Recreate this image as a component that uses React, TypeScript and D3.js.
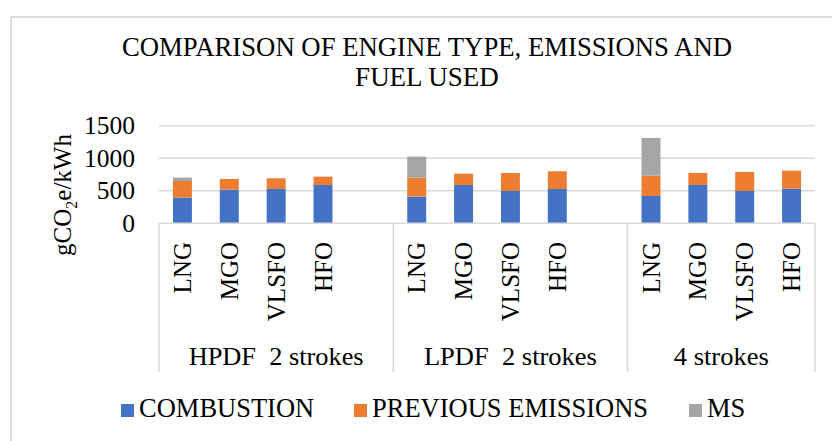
import React from "react";
import * as d3 from "d3";

const groups = ["HPDF  2 strokes", "LPDF  2 strokes", "4 strokes"];
const groupSlots = [5, 5, 4];
const fuels = ["LNG", "MGO", "VLSFO", "HFO"];
const seriesNames = ["COMBUSTION", "PREVIOUS EMISSIONS", "MS"];
const combustion = [395, 517, 528, 589, 410, 589, 497, 528, 420, 589, 497, 532];
const previous = [255, 164, 164, 128, 292, 174, 277, 272, 312, 185, 292, 277];
const ms = [52, 0, 0, 0, 323, 0, 0, 0, 580, 0, 0, 0];
const yTicks = [0, 500, 1000, 1500];
const colors = ["#4472C4", "#ED7D31", "#A5A5A5"];

const W = 832;
const H = 441;
const FONT = "'Liberation Serif', 'Times New Roman', serif";

export default function App() {
  const slots: { key: string; group: number; fuel: number | null; idx: number | null }[] = [];
  let k = 0;
  groups.forEach((g, gi) => {
    for (let s = 0; s < groupSlots[gi]; s++) {
      const isBar = s < fuels.length;
      slots.push({ key: `${gi}-${s}`, group: gi, fuel: isBar ? s : null, idx: isBar ? k++ : null });
    }
  });

  const x = d3.scaleBand<string>().domain(slots.map((s) => s.key)).range([159, 815]).padding(0);
  const y = d3.scaleLinear().domain([0, 1500]).range([223.3, 125.7]);
  const barW = x.bandwidth() * 0.405;

  const rows = slots
    .filter((s) => s.idx !== null)
    .map((s) => ({ key: s.key, fuel: fuels[s.fuel as number], c: combustion[s.idx as number], p: previous[s.idx as number], m: ms[s.idx as number] }));
  const stack = d3.stack<any>().keys(["c", "p", "m"])(rows);

  const bounds: number[] = [];
  let acc = 0;
  bounds.push(x(slots[0].key) as number);
  groupSlots.forEach((n) => {
    acc += n;
    bounds.push(159 + acc * x.step());
  });

  const groupLabelW = [175, 173, 95];
  const legendItems = [
    { x: 121, tx: 139 },
    { x: 354, tx: 372 },
    { x: 689, tx: 707 },
  ];

  return (
    <svg width={W} height={H} style={{ position: "absolute", left: 0, top: 0, background: "#fff" }}>
      <rect x={0} y={0} width={W} height={H} fill="#fff" />
      <line x1={11} y1={17} x2={W} y2={17} stroke="#d9d9d9" strokeWidth={2} />
      <line x1={11} y1={17} x2={11} y2={H} stroke="#d9d9d9" strokeWidth={2} />

      <text x={427} y={56} textAnchor="middle" fontFamily={FONT} fontSize={27} fill="#000" textLength={610} lengthAdjust="spacingAndGlyphs">
        COMPARISON OF ENGINE TYPE, EMISSIONS AND
      </text>
      <text x={427} y={86} textAnchor="middle" fontFamily={FONT} fontSize={27} fill="#000">
        FUEL USED
      </text>

      {yTicks.filter((t) => t > 0).map((t) => (
        <line key={t} x1={159} x2={815} y1={y(t)} y2={y(t)} stroke="#d9d9d9" strokeWidth={1.5} />
      ))}
      {yTicks.map((t) => (
        <text key={t} x={135} y={y(t) + 8.5} textAnchor="end" fontFamily={FONT} fontSize={25.5} fill="#000">
          {t}
        </text>
      ))}
      <text transform={`translate(71,195) rotate(-90)`} textAnchor="middle" fontFamily={FONT} fontSize={25} fill="#000">
        gCO<tspan fontSize={16} dy={6}>2</tspan>
        <tspan dy={-6}>e/kWh</tspan>
      </text>

      {stack.map((layer, li) => (
        <g key={li} fill={colors[li]}>
          {layer.map((d: any, i: number) => {
            const h = y(d[0]) - y(d[1]);
            if (h <= 0) return null;
            const cx = (x(rows[i].key) as number) + x.bandwidth() / 2;
            return <rect key={i} x={cx - barW / 2} y={y(d[1])} width={barW} height={h} />;
          })}
        </g>
      ))}

      <line x1={159} x2={815} y1={y(0)} y2={y(0)} stroke="#d9d9d9" strokeWidth={1.5} />
      {bounds.map((b, i) => (
        <line key={i} x1={b} x2={b} y1={y(0)} y2={372} stroke="#d9d9d9" strokeWidth={1.5} />
      ))}
      {rows.map((r) => {
        const cx = (x(r.key) as number) + x.bandwidth() / 2;
        return (
          <text key={r.key} transform={`translate(${cx + 8.5},242) rotate(-90)`} textAnchor="end" fontFamily={FONT} fontSize={25} fill="#000">
            {r.fuel}
          </text>
        );
      })}
      {groups.map((g, gi) => (
        <text
          key={g}
          x={(bounds[gi] + bounds[gi + 1]) / 2}
          y={365}
          textAnchor="middle"
          fontFamily={FONT}
          fontSize={26}
          fill="#000"
          textLength={groupLabelW[gi]}
          lengthAdjust="spacingAndGlyphs"
          style={{ whiteSpace: "pre" }}
        >
          {g}
        </text>
      ))}

      {seriesNames.map((s, i) => (
        <g key={s}>
          <rect x={legendItems[i].x} y={404} width={13} height={13} fill={colors[i]} />
          <text x={legendItems[i].tx} y={417} fontFamily={FONT} fontSize={26.5} fill="#000">
            {s}
          </text>
        </g>
      ))}
    </svg>
  );
}
